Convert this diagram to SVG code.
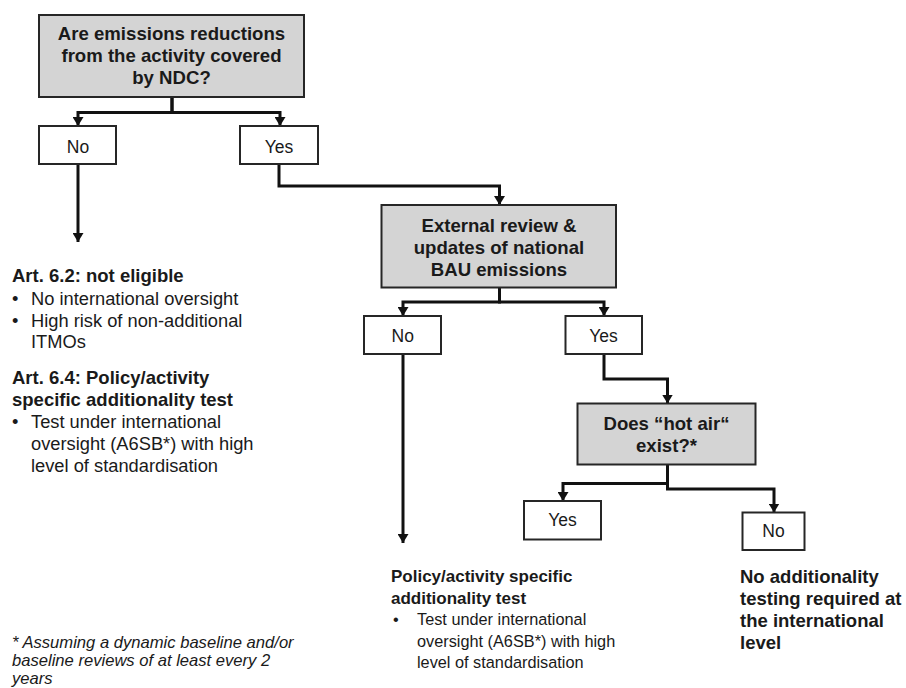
<svg xmlns="http://www.w3.org/2000/svg" width="906" height="688" viewBox="0 0 906 688">
<defs>
<style>
.q{fill:#d4d4d4;stroke:#262626;stroke-width:2}
.a{fill:#fff;stroke:#262626;stroke-width:2}
.qt{font-family:"Liberation Sans",Arial,sans-serif;font-weight:bold;font-size:18.6px;fill:#1a1a1a;text-anchor:middle}
.at{font-family:"Liberation Sans",Arial,sans-serif;font-size:17.5px;fill:#1a1a1a;text-anchor:middle}
.lh{font-family:"Liberation Sans",Arial,sans-serif;font-weight:bold;font-size:18.5px;fill:#1a1a1a}
.lb{font-family:"Liberation Sans",Arial,sans-serif;font-size:18.3px;fill:#1a1a1a}
.mh{font-family:"Liberation Sans",Arial,sans-serif;font-weight:bold;font-size:17px;fill:#1a1a1a}
.mb{font-family:"Liberation Sans",Arial,sans-serif;font-size:16.3px;fill:#1a1a1a}
.fn{font-family:"Liberation Sans",Arial,sans-serif;font-style:italic;font-size:16.6px;fill:#1a1a1a}
.c{fill:none;stroke:#111;stroke-width:3}
</style>
<marker id="arr" viewBox="0 0 10 10" refX="10" refY="5" markerWidth="9" markerHeight="11" markerUnits="userSpaceOnUse" orient="auto" preserveAspectRatio="none">
<path d="M0,0 L10,5 L0,10 z" fill="#111"/>
</marker>
</defs>
<rect width="906" height="688" fill="#fff"/>
<g id="connectors">
<path class="c" d="M172 97 V112.5 H78 V126" marker-end="url(#arr)"/>
<path class="c" d="M172 97 V112.5 H280 V126" marker-end="url(#arr)"/>
<path class="c" d="M78 164 V242" marker-end="url(#arr)"/>
<path class="c" d="M279 164 V186 H499.5 V205" marker-end="url(#arr)"/>
<path class="c" d="M499.5 287.5 V302 H403 V316" marker-end="url(#arr)"/>
<path class="c" d="M499.5 287.5 V302 H604 V316" marker-end="url(#arr)"/>
<path class="c" d="M403 354 V543" marker-end="url(#arr)"/>
<path class="c" d="M604 354 V379 H667.5 V403.5" marker-end="url(#arr)"/>
<path class="c" d="M667.5 464.5 V483.5 H563 V501" marker-end="url(#arr)"/>
<path class="c" d="M667.5 464.5 V489 H774 V512.5" marker-end="url(#arr)"/>
</g>
<g id="q1">
<rect class="q" x="39" y="15" width="265" height="82"/>
<text class="qt" x="171.5" y="39.5">Are emissions reductions</text>
<text class="qt" x="171.5" y="61.5">from the activity covered</text>
<text class="qt" x="171.5" y="83.5">by NDC?</text>
</g>
<g id="no1">
<rect class="a" x="39" y="126" width="77" height="38"/>
<text class="at" x="78" y="152.7">No</text>
</g>
<g id="yes1">
<rect class="a" x="240" y="126" width="78" height="38"/>
<text class="at" x="279" y="152.7">Yes</text>
</g>
<g id="q2">
<rect class="q" x="381.5" y="205" width="234.5" height="82.5"/>
<text class="qt" x="499" y="231.5">External review &amp;</text>
<text class="qt" x="499" y="253.5">updates of national</text>
<text class="qt" x="499" y="275.5">BAU emissions</text>
</g>
<g id="no2">
<rect class="a" x="364" y="316" width="77" height="38"/>
<text class="at" x="402.7" y="341.7">No</text>
</g>
<g id="yes2">
<rect class="a" x="565.5" y="316" width="76.5" height="38"/>
<text class="at" x="603.5" y="341.7">Yes</text>
</g>
<g id="q3">
<rect class="q" x="577.5" y="403.5" width="178" height="61"/>
<text class="qt" x="666.5" y="429.5">Does “hot air“</text>
<text class="qt" x="666.5" y="451.5">exist?*</text>
</g>
<g id="yes3">
<rect class="a" x="524" y="501" width="77" height="38.5"/>
<text class="at" x="562.5" y="526">Yes</text>
</g>
<g id="no3">
<rect class="a" x="742.5" y="512.5" width="62" height="37.5"/>
<text class="at" x="773.5" y="537">No</text>
</g>
<g id="left-outcome">
<text class="lh" x="12" y="282">Art. 6.2: not eligible</text>
<text class="lb" x="12" y="305">•</text><text class="lb" x="31" y="305">No international oversight</text>
<text class="lb" x="12" y="326.5">•</text><text class="lb" x="31" y="326.5">High risk of non-additional</text>
<text class="lb" x="31" y="348">ITMOs</text>
<text class="lh" x="12" y="384">Art. 6.4: Policy/activity</text>
<text class="lh" x="12" y="406">specific additionality test</text>
<text class="lb" x="12" y="428">•</text><text class="lb" x="31" y="428">Test under international</text>
<text class="lb" x="31" y="450">oversight (A6SB*) with high</text>
<text class="lb" x="31" y="472">level of standardisation</text>
</g>
<g id="mid-outcome">
<text class="mh" x="391" y="582">Policy/activity specific</text>
<text class="mh" x="391" y="603.5">additionality test</text>
<text class="mb" x="393" y="625">•</text><text class="mb" x="417" y="625">Test under international</text>
<text class="mb" x="417" y="646.5">oversight (A6SB*) with high</text>
<text class="mb" x="417" y="668">level of standardisation</text>
</g>
<g id="right-outcome">
<text class="lh" x="740" y="583">No additionality</text>
<text class="lh" x="740" y="605">testing required at</text>
<text class="lh" x="740" y="627">the international</text>
<text class="lh" x="740" y="649">level</text>
</g>
<g id="footnote">
<text class="fn" x="12" y="648">* Assuming a dynamic baseline and/or</text>
<text class="fn" x="12" y="666">baseline reviews of at least every 2</text>
<text class="fn" x="12" y="683.5">years</text>
</g>
</svg>
